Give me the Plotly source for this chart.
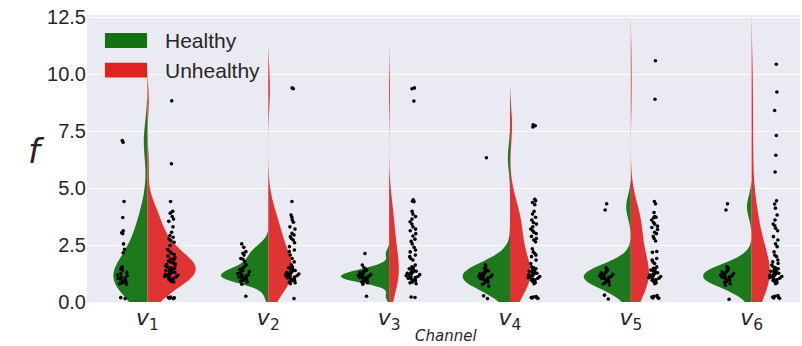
import numpy as np
import plotly.graph_objects as go

channels = ["v1", "v2", "v3", "v4", "v5", "v6"]
tick_labels = ["<i>v</i><sub>1</sub>", "<i>v</i><sub>2</sub>", "<i>v</i><sub>3</sub>",
               "<i>v</i><sub>4</sub>", "<i>v</i><sub>5</sub>", "<i>v</i><sub>6</sub>"]
groups = ["Healthy", "Unhealthy"]

healthy_v1 = [7.09, 7.01, 4.41, 3.71, 3.13, 3.04, 3.00, 2.55, 2.31, 2.16, 1.54, 1.45, 1.40, 1.30,
              1.25, 1.18, 1.15, 1.10, 1.05, 1.03, 0.98, 0.96, 0.92, 0.88, 0.84, 0.80, 0.78, 0.19, 0.15]
unhealthy_v1 = [8.83, 6.07, 4.41, 3.98, 3.90, 3.75, 3.64, 3.54, 3.30, 3.06, 2.92, 2.84, 2.77, 2.70,
                2.62, 2.48, 2.30, 2.20, 2.15, 2.08, 2.02, 1.95, 1.90, 1.85, 1.80, 1.76, 1.72, 1.68,
                1.64, 1.60, 1.57, 1.54, 1.50, 1.47, 1.44, 1.41, 1.38, 1.35, 1.33, 1.30, 1.28, 1.25,
                1.22, 1.20, 1.17, 1.14, 1.12, 1.09, 1.06, 1.03, 1.00, 0.97, 0.93, 0.90, 0.88, 0.22,
                0.20, 0.18, 0.17, 0.15]
healthy_v2 = [2.55, 2.40, 2.21, 2.14, 2.06, 1.91, 1.88, 1.76, 1.62, 1.54, 1.47, 1.42, 1.38, 1.33,
              1.28, 1.25, 1.20, 1.18, 1.14, 1.10, 1.08, 1.05, 1.03, 1.00, 0.96, 0.92, 0.88, 0.78, 0.25]
unhealthy_v2 = [9.40, 9.36, 4.41, 3.82, 3.72, 3.60, 3.50, 3.30, 3.20, 3.02, 2.94, 2.87, 2.79, 2.72,
                2.60, 2.43, 2.28, 2.21, 2.06, 1.91, 1.76, 1.62, 1.54, 1.50, 1.46, 1.42, 1.38, 1.35,
                1.32, 1.29, 1.26, 1.23, 1.20, 1.18, 1.15, 1.12, 1.10, 1.07, 1.04, 1.01, 0.98, 0.95,
                0.92, 0.88, 0.84, 0.80, 0.15]
healthy_v3 = [2.13, 1.62, 1.50, 1.45, 1.40, 1.36, 1.33, 1.28, 1.25, 1.22, 1.18, 1.16, 1.14, 1.12,
              1.10, 1.08, 1.05, 1.03, 1.00, 0.96, 0.92, 0.88, 0.85, 0.78, 0.25]
unhealthy_v3 = [9.40, 9.36, 8.82, 4.49, 4.42, 4.40, 3.98, 3.86, 3.75, 3.64, 3.52, 3.42, 3.30, 3.20,
                3.13, 3.00, 2.90, 2.76, 2.66, 2.55, 2.40, 2.28, 2.20, 2.06, 1.99, 1.91, 1.84, 1.62,
                1.55, 1.50, 1.46, 1.42, 1.38, 1.35, 1.32, 1.29, 1.26, 1.23, 1.20, 1.18, 1.15, 1.12,
                1.10, 1.07, 1.04, 1.01, 0.98, 0.95, 0.92, 0.88, 0.84, 0.80, 0.22, 0.20]
healthy_v4 = [6.33, 1.62, 1.54, 1.48, 1.44, 1.40, 1.36, 1.32, 1.28, 1.25, 1.22, 1.18, 1.15, 1.12,
              1.10, 1.08, 1.05, 1.02, 0.99, 0.96, 0.92, 0.88, 0.84, 0.78, 0.70, 0.27, 0.15]
unhealthy_v4 = [7.78, 7.74, 7.68, 4.51, 4.44, 4.37, 4.27, 3.98, 3.86, 3.72, 3.60, 3.49, 3.42, 3.30,
                3.20, 3.13, 3.06, 3.00, 2.88, 2.79, 2.72, 2.64, 2.34, 2.20, 2.13, 2.06, 1.99, 1.84,
                1.69, 1.54, 1.50, 1.46, 1.42, 1.38, 1.35, 1.32, 1.29, 1.26, 1.23, 1.20, 1.18, 1.15,
                1.12, 1.10, 1.07, 1.04, 1.01, 0.98, 0.95, 0.90, 0.85, 0.80, 0.24, 0.22, 0.20, 0.19,
                0.18, 0.16]
healthy_v5 = [4.31, 4.04, 1.50, 1.44, 1.40, 1.36, 1.32, 1.28, 1.25, 1.22, 1.18, 1.15, 1.12, 1.10,
              1.08, 1.05, 1.02, 0.98, 0.95, 0.90, 0.86, 0.80, 0.75, 0.30, 0.13]
unhealthy_v5 = [10.59, 8.90, 4.41, 4.31, 3.93, 3.75, 3.72, 3.70, 3.60, 3.49, 3.42, 3.33, 3.27, 3.18,
                3.06, 3.00, 2.88, 2.79, 2.68, 2.22, 2.18, 1.91, 1.84, 1.76, 1.69, 1.54, 1.48, 1.44,
                1.40, 1.36, 1.32, 1.28, 1.25, 1.22, 1.18, 1.15, 1.12, 1.10, 1.07, 1.04, 1.01, 0.98,
                0.95, 0.90, 0.85, 0.80, 0.28, 0.25, 0.22, 0.20, 0.18, 0.16]
healthy_v6 = [4.31, 4.04, 1.56, 1.50, 1.45, 1.40, 1.36, 1.32, 1.28, 1.25, 1.22, 1.18, 1.15, 1.12,
              1.10, 1.08, 1.05, 1.02, 0.98, 0.95, 0.90, 0.86, 0.80, 0.74, 0.12]
unhealthy_v6 = [10.44, 9.22, 8.41, 7.31, 6.44, 5.71, 4.44, 4.30, 4.12, 3.82, 3.60, 3.42, 3.35, 3.24,
                3.13, 2.87, 2.72, 2.55, 2.43, 2.20, 2.05, 1.99, 1.84, 1.76, 1.69, 1.62, 1.56, 1.50,
                1.46, 1.42, 1.38, 1.35, 1.32, 1.29, 1.26, 1.23, 1.20, 1.18, 1.15, 1.12, 1.10, 1.07,
                1.04, 1.01, 0.98, 0.95, 0.90, 0.85, 0.80, 0.28, 0.25, 0.22, 0.20, 0.18, 0.16]

healthy = [healthy_v1, healthy_v2, healthy_v3, healthy_v4, healthy_v5, healthy_v6]
unhealthy = [unhealthy_v1, unhealthy_v2, unhealthy_v3, unhealthy_v4, unhealthy_v5, unhealthy_v6]

# style: max half-widths of each half violin (in category units)
half_w_h = [0.28, 0.39, 0.40, 0.39, 0.39, 0.40]
half_w_u = [0.40, 0.20, 0.08, 0.17, 0.15, 0.15]

GREEN = "#1e781e"
RED = "#e03434"


def scott_bw(vals):
    a = np.asarray(vals, dtype=float)
    return float(a.std(ddof=1) * len(a) ** (-0.2))


fig = go.Figure()
for i, ch in enumerate(channels):
    fig.add_trace(go.Violin(
        x0=i, y=healthy[i], side="negative", width=2 * half_w_h[i],
        bandwidth=scott_bw(healthy[i]), spanmode="soft",
        fillcolor=GREEN, line=dict(color=GREEN, width=0), opacity=1,
        points=False, hoverinfo="skip", showlegend=False, name="Healthy"))
    fig.add_trace(go.Violin(
        x0=i, y=unhealthy[i], side="positive", width=2 * half_w_u[i],
        bandwidth=scott_bw(unhealthy[i]), spanmode="soft",
        fillcolor=RED, line=dict(color=RED, width=0), opacity=1,
        points=False, hoverinfo="skip", showlegend=False, name="Unhealthy"))

for i, ch in enumerate(channels):
    for off, vals in ((-0.2, healthy[i]), (0.2, unhealthy[i])):
        fig.add_trace(go.Box(
            x0=i + off, y=vals, width=0.12, boxpoints="all", jitter=1, pointpos=0,
            fillcolor="rgba(0,0,0,0)", line=dict(color="rgba(0,0,0,0)", width=0),
            marker=dict(color="black", size=3.6, line=dict(width=0)),
            hoverinfo="skip", showlegend=False))

fig.update_layout(
    width=802, height=346,
    margin=dict(l=87, r=2, t=15, b=44),
    paper_bgcolor="white", plot_bgcolor="#EAEAF2",
    violinmode="overlay", boxmode="overlay",
    font=dict(family="Liberation Sans, Arial, sans-serif", color="#262626"),
    xaxis=dict(range=[-0.5, 5.4], tickmode="array", tickvals=list(range(6)),
               ticktext=tick_labels, showgrid=False, zeroline=False, ticks="",
               automargin=False,
               tickfont=dict(family="DejaVu Sans", size=22, color="#262626")),
    yaxis=dict(range=[0, 12.6], tickvals=[0, 2.5, 5, 7.5, 10, 12.5],
               ticktext=["0.0", "2.5", "5.0", "7.5", "10.0", "12.5"],
               showgrid=True, gridcolor="white", gridwidth=1, zeroline=False, ticks="",
               automargin=False,
               tickfont=dict(size=20, color="#262626")),
)

# axis titles
fig.add_annotation(text="<i>f</i>", xref="paper", yref="paper", x=-0.071, y=0.525,
                   xanchor="center", yanchor="middle", showarrow=False,
                   font=dict(family="DejaVu Sans", size=34, color="#262626"))
fig.add_annotation(text="<i>Channel</i>", xref="paper", yref="paper", x=0.504, y=-0.118,
                   xanchor="center", yanchor="middle", showarrow=False,
                   font=dict(family="DejaVu Sans", size=15, color="#262626"))

# legend drawn as patches + text
legend_items = [("Healthy", "#137313", 0.911), ("Unhealthy", "#e02222", 0.808)]
for label, col, yc in legend_items:
    fig.add_shape(type="rect", xref="paper", yref="paper",
                  x0=0.0252, x1=0.0842, y0=yc - 0.026, y1=yc + 0.026,
                  fillcolor=col, line=dict(width=0))
    fig.add_annotation(text=label, xref="paper", yref="paper", x=0.1066, y=yc,
                       xanchor="left", yanchor="middle", showarrow=False,
                       font=dict(size=21, color="#262626"))

fig.write_html("out.html", config={"displayModeBar": False},
               post_script="document.body.style.margin='0px';")
